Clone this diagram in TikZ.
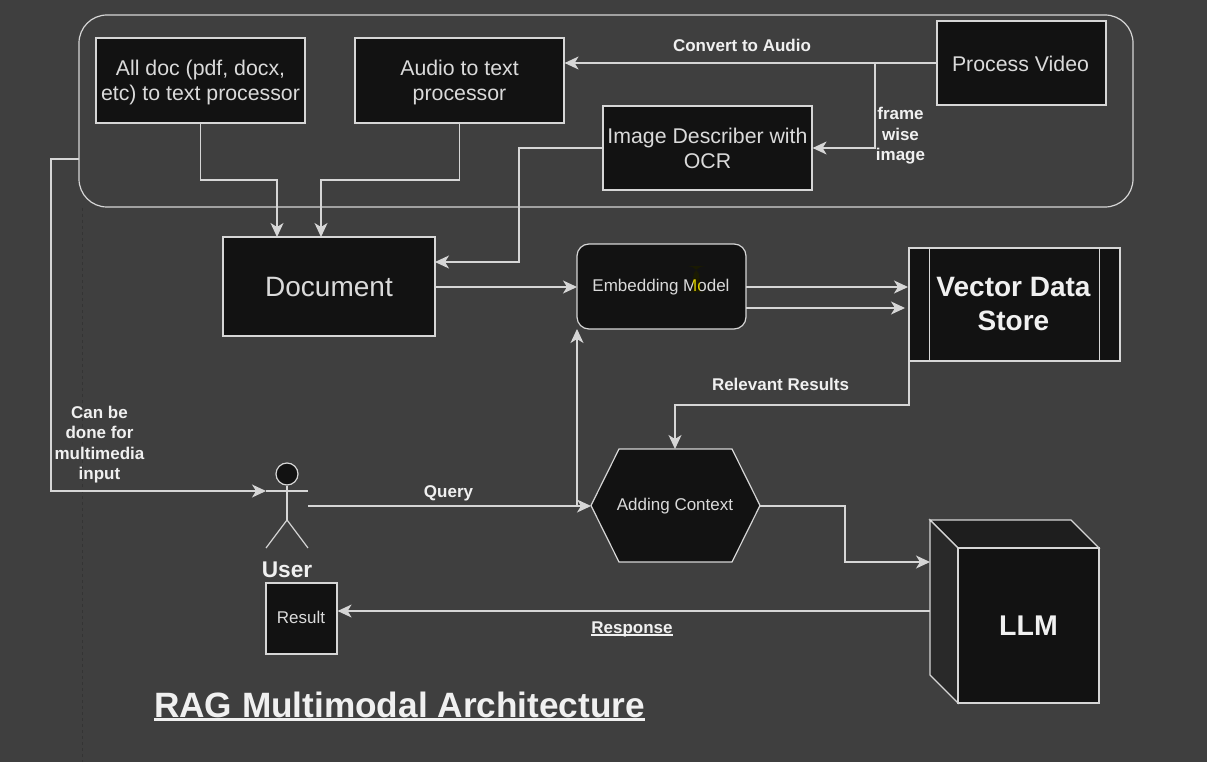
\documentclass[tikz,border=0pt]{standalone}
\usepackage{fontspec}
\setmainfont{Liberation Sans}
\usetikzlibrary{arrows.meta,positioning,calc}
\definecolor{bg}{HTML}{3F3F3F}
\definecolor{boxfill}{HTML}{121212}
\definecolor{ln}{HTML}{D6D6D6}
\definecolor{tx}{HTML}{DADADA}
\definecolor{btx}{HTML}{F0F0F0}
\definecolor{cubetop}{HTML}{1E1E1E}
\definecolor{cubeside}{HTML}{292929}
\definecolor{cursorbar}{HTML}{1A1A02}
\newsavebox{\ulbox}
\newcommand{\myul}[3]{\sbox{\ulbox}{#1}\rlap{\rule[#2]{\wd\ulbox}{#3}}\usebox{\ulbox}}
% text set in a box that is symmetric round its baseline, so #1 moves it inside the node
\newcommand{\boxtxt}[2]{\raisebox{#1}[30pt][30pt]{\begin{tabular}{@{}c@{}}#2\end{tabular}}}
\tikzset{
  box/.style={draw=ln,fill=boxfill,line width=1.2pt,text=tx,align=center,inner sep=0pt,font=\fontsize{21.3}{25}\selectfont},
  smallbox/.style={box,font=\fontsize{17}{20}\selectfont},
  lab/.style={text=btx,align=center,inner sep=0pt,font=\fontsize{17}{20.5}\selectfont\bfseries},
  edge/.style={draw=ln,line width=1.2pt},
  arr/.style={edge,-{Stealth[length=14pt,width=13pt,inset=4pt]}},
}
\begin{document}
\begin{tikzpicture}[x=1pt,y=-1pt]
\fill[bg] (0,0) rectangle (1207,762);
\useasboundingbox (0,0) rectangle (1207,762);
\draw[color=black!18!bg,line width=1pt,dash pattern=on 3pt off 3pt] (82,208) -- (82,762);

% container
\draw[edge,rounded corners=28pt] (79,15) rectangle (1133,207);
\coordinate (contL) at (79,159);

% boxes
\node[box,minimum width=209pt,minimum height=85pt] (alldoc) at (200.5,80.5) {\boxtxt{-7.5pt}{All doc (pdf, docx,\\etc) to text processor}};
\node[box,minimum width=209pt,minimum height=85pt] (audio) at (459.5,80.5) {\boxtxt{-7.5pt}{Audio to text\\processor}};
\node[box,minimum width=169pt,minimum height=84pt] (video) at (1021.5,63) {\boxtxt{-9pt}{\hspace*{-2pt}Process Video}};
\node[box,minimum width=209pt,minimum height=84pt] (image) at (707.5,148) {\boxtxt{-8pt}{Image Describer with\\OCR}};
\node[box,minimum width=212pt,minimum height=99pt,font=\fontsize{28}{34}\selectfont] (doc) at (329,286.5) {\boxtxt{-9pt}{Document}};
\node[smallbox,minimum width=169pt,minimum height=85pt,rounded corners=12pt,
  path picture={\fill[color=cursorbar] ($(path picture bounding box.center)+(31.5,-20.5)$) rectangle ($(path picture bounding box.center)+(38,5.5)$);}] (embed) at (661.5,286.5) {\boxtxt{-5pt}{\hspace*{-1pt}Embedding Model}};
\fill[color=yellow,blend mode=multiply] (693,278) rectangle (699.5,292);
% vector store
\node[box,minimum width=211pt,minimum height=113pt,font=\fontsize{28}{34}\selectfont\bfseries,text=btx] (vector) at (1014.5,304.5) {\boxtxt{-8.5pt}{\hspace*{-2pt}Vector Data\\\hspace*{-2pt}Store}};
\draw[edge] ($(vector.north west)+(21,0)$) -- ($(vector.south west)+(21,0)$);
\draw[edge] ($(vector.north east)+(-21,0)$) -- ($(vector.south east)+(-21,0)$);
% hexagon
\path[draw=ln,fill=boxfill,line width=1.2pt] (591,505.5) -- (619,449) -- (732,449) -- (760,505.5) -- (732,562) -- (619,562) -- cycle;
\node[text=tx,inner sep=0pt,font=\fontsize{17}{20}\selectfont] (hex) at (675,506) {Adding Context};
\coordinate (hexL) at (591,506);
\coordinate (hexR) at (760,506);
\coordinate (hexT) at (675,449);
% cube
\path[draw=ln,fill=cubetop,line width=1.2pt] (930,520) -- (1071,520) -- (1099,548) -- (958,548) -- cycle;
\path[draw=ln,fill=cubeside,line width=1.2pt] (930,520) -- (958,548) -- (958,703) -- (930,675) -- cycle;
\node[box,minimum width=141pt,minimum height=155pt,font=\fontsize{28.5}{34}\selectfont\bfseries,text=btx] (llm) at (1028.5,625.5) {LLM};
\coordinate (llmA) at (930,562);
\coordinate (llmB) at (930,611);
% result
\node[smallbox,minimum width=71pt,minimum height=71pt] (result) at (301.5,618.5) {\boxtxt{-5.5pt}{\hspace*{-1pt}Result}};
% actor
\node[circle,draw=ln,fill=boxfill,line width=1.2pt,minimum size=22pt,inner sep=0pt] (head) at (287,474) {};
\coordinate (hip) at (287,520);
\coordinate (handL) at (266,491);
\coordinate (handR) at (308,491);
\coordinate (queryS) at (308,506);
\draw[edge] (head.south) -- (hip);
\draw[edge] (handL) -- (handR);
\coordinate (footL) at (266,548);
\coordinate (footR) at (308,548);
\draw[edge] (footL) -- (hip) -- (footR);
\node[lab,font=\fontsize{22.7}{25}\selectfont\bfseries] (user) at (287,570) {User};

% connectors
\coordinate (v1) at (875,63);
\draw[arr] (video.west) -- (audio.east |- video.west);
\draw[arr] (v1) -- (875,148) -- (image.east);
\coordinate (d1) at (277,237);
\coordinate (d2) at (321,237);
\draw[arr] (alldoc.south) -- (200.5,180) -| (d1);
\draw[arr] (audio.south) -- (459.5,180) -| (d2);
\coordinate (d3) at (435,262);
\draw[arr] (image.west) -| (519,262) -- (d3);
\coordinate (e1) at (577,287);
\draw[arr] (doc.east |- e1) -- (e1);
\coordinate (e2) at (746,287);
\coordinate (e3) at (746,308);
\draw[arr] (e2) -- (908,287);
\draw[arr] (e3) -- (905,308);
\coordinate (embB) at (577,329);
\draw[arr] (909,361) -- (909,405) -| (hexT);
\draw[arr] (queryS) -- (hexL);
\coordinate (qb) at (577,506);
\draw[arr] (qb) -- (embB);
\draw[arr] (hexR) -- (845,506) |- (llmA);
\draw[arr] (llmB) -- (result.east |- llmB);
\draw[arr] (contL) -- (51,159) |- (handL);

% labels
\node[lab] (l1) at (742,45.5) {Convert to Audio};
\node[lab] (l2) at (900.5,136) {frame\\wise\\image};
\node[lab] (l3) at (780.5,384.5) {Relevant Results};
\node[lab] (l4) at (448.5,493) {Query};
\node[lab] (l5) at (99.5,444.5) {Can be\\done for\\multimedia\\input};
\node[lab,anchor=base] (l6) at (632,633) {\myul{Response}{-2.5pt}{1.4pt}};
\node[lab,anchor=base,font=\fontsize{35.2}{40}\selectfont\bfseries] (title) at (399.5,717) {\myul{RAG Multimodal Architecture}{-4pt}{2.6pt}};
\end{tikzpicture}
\end{document}
